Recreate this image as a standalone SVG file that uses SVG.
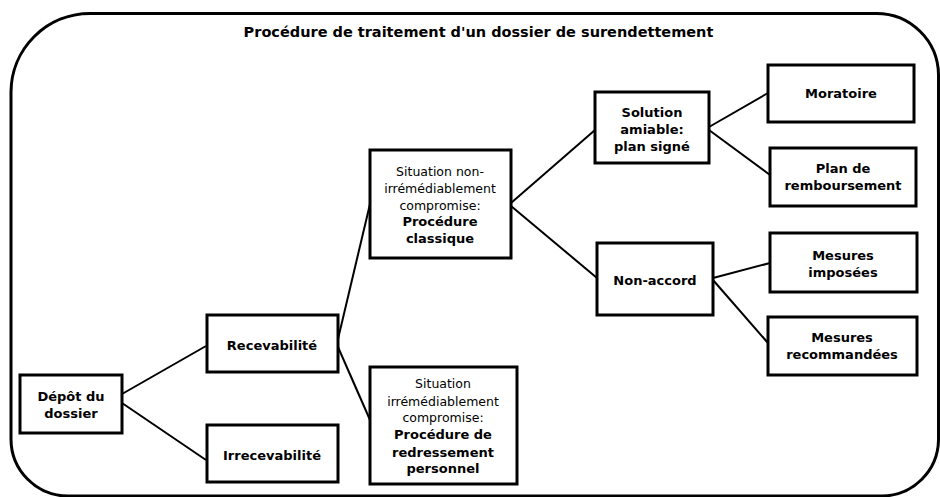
<svg xmlns="http://www.w3.org/2000/svg" width="940" height="497" viewBox="0 0 940 497">
<style>
.box{fill:#fff;stroke:#000;stroke-width:3}
.frame{fill:none;stroke:#000;stroke-width:3}
.con line{stroke:#000;stroke-width:2}
text{font-family:"DejaVu Sans",Verdana,sans-serif;font-size:12.5px;fill:#000;text-anchor:middle}
.b{font-weight:bold;font-size:13px}
.title{font-size:14.5px;font-weight:bold}
</style>
<rect width="940" height="497" fill="#fff"/>
<path class="frame" d="M90,13.5 H876 A62,62 0 0 1 938.5,75 V440 A57,57 0 0 1 882,496 H68 A57,57 0 0 1 11,439 V92 A79,79 0 0 1 90,13.5 Z"/>
<text class="title" x="478.5" y="37">Procédure de traitement d'un dossier de surendettement</text>
<g class="con">
<line x1="122" y1="394" x2="206" y2="346"/>
<line x1="122" y1="403" x2="206" y2="460"/>
<line x1="338" y1="339" x2="370" y2="204"/>
<line x1="338" y1="347" x2="370" y2="420"/>
<line x1="511" y1="203" x2="595" y2="130"/>
<line x1="511" y1="206" x2="597" y2="278"/>
<line x1="709" y1="127" x2="768" y2="93"/>
<line x1="709" y1="130" x2="770" y2="175"/>
<line x1="713" y1="278" x2="770" y2="263"/>
<line x1="713" y1="280" x2="768" y2="343"/>
</g>
<g id="depot"><rect class="box" x="20" y="375" width="102" height="58"/><text class="b" x="71" y="401">Dépôt du</text><text class="b" x="71" y="418">dossier</text></g>
<g id="recevabilite"><rect class="box" x="207" y="315" width="131" height="57"/><text class="b" x="272" y="350">Recevabilité</text></g>
<g id="irrecevabilite"><rect class="box" x="207" y="425" width="131" height="57"/><text class="b" x="272" y="460">Irrecevabilité</text></g>
<g id="situation-non"><rect class="box" x="370" y="150" width="141" height="108"/>
<text x="440" y="176">Situation non-</text><text x="440" y="193">irrémédiablement</text><text x="440" y="209.5">compromise:</text><text class="b" x="440" y="226">Procédure</text><text class="b" x="440" y="243">classique</text></g>
<g id="situation-irr"><rect class="box" x="370" y="367" width="147" height="117"/>
<text x="443" y="388">Situation</text><text x="443" y="405.5">irrémédiablement</text><text x="443" y="422">compromise:</text><text class="b" x="443" y="439">Procédure de</text><text class="b" x="443" y="456.5">redressement</text><text class="b" x="443" y="473">personnel</text></g>
<g id="solution-amiable"><rect class="box" x="595" y="92" width="114" height="71"/>
<text class="b" x="652" y="117">Solution</text><text class="b" x="652" y="134">amiable:</text><text class="b" x="652" y="151">plan signé</text></g>
<g id="non-accord"><rect class="box" x="597" y="243" width="116" height="72"/><text class="b" x="655" y="285">Non-accord</text></g>
<g id="moratoire"><rect class="box" x="768" y="65" width="146" height="57"/><text class="b" x="841" y="98">Moratoire</text></g>
<g id="plan"><rect class="box" x="770" y="148" width="146" height="58"/><text class="b" x="843" y="173">Plan de</text><text class="b" x="843" y="190">remboursement</text></g>
<g id="imposees"><rect class="box" x="770" y="233" width="147" height="59"/><text class="b" x="843" y="260">Mesures</text><text class="b" x="843" y="277">imposées</text></g>
<g id="recommandees"><rect class="box" x="768" y="317" width="149" height="58"/><text class="b" x="842" y="342">Mesures</text><text class="b" x="842" y="359">recommandées</text></g>
</svg>
